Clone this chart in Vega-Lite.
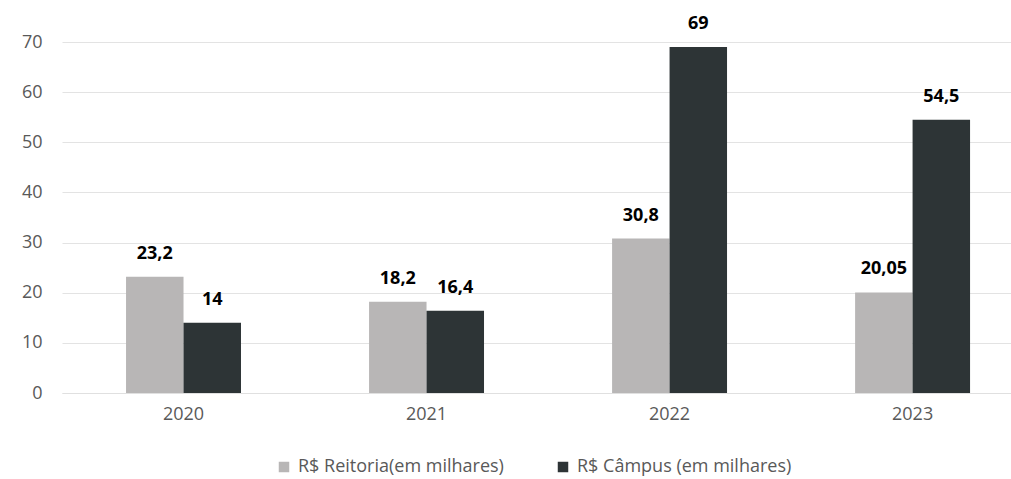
{
  "$schema": "https://vega.github.io/schema/vega-lite/v6.json",
  "width": 949,
  "height": 351,
  "autosize": "none",
  "padding": {"left": 62, "top": 42, "right": 0, "bottom": 86},
  "background": "white",
  "config": {
    "view": {"stroke": null},
    "font": "Open Sans",
    "locale": {"number": {"decimal": ",", "thousands": ".", "grouping": [3], "currency": ["R$", ""]}}
  },
  "data": {
    "values": [
      {"ano": "2020", "serie": "R$ Reitoria(em milhares)", "valor": 23.2},
      {"ano": "2020", "serie": "R$ Câmpus (em milhares)", "valor": 14},
      {"ano": "2021", "serie": "R$ Reitoria(em milhares)", "valor": 18.2},
      {"ano": "2021", "serie": "R$ Câmpus (em milhares)", "valor": 16.4},
      {"ano": "2022", "serie": "R$ Reitoria(em milhares)", "valor": 30.8},
      {"ano": "2022", "serie": "R$ Câmpus (em milhares)", "valor": 69},
      {"ano": "2023", "serie": "R$ Reitoria(em milhares)", "valor": 20.05},
      {"ano": "2023", "serie": "R$ Câmpus (em milhares)", "valor": 54.5}
    ]
  },
  "encoding": {
    "x": {
      "field": "ano", "type": "nominal",
      "scale": {"paddingInner": 0.527, "paddingOuter": 0.216, "align": 0.61},
      "axis": {"title": null, "labelAngle": 0, "domain": true, "domainColor": "#e0e0e0", "ticks": false, "labelFont": "Open Sans", "labelFontSize": 18, "labelColor": "#595959", "labelPadding": 12}
    },
    "xOffset": {"field": "serie", "type": "nominal", "sort": ["R$ Reitoria(em milhares)", "R$ Câmpus (em milhares)"], "scale": {"paddingInner": 0, "paddingOuter": 0}},
    "y": {
      "field": "valor", "type": "quantitative",
      "scale": {"domain": [0, 70]},
      "axis": {"title": null, "values": [0, 10, 20, 30, 40, 50, 60, 70], "labelOverlap": false, "domain": false, "ticks": false, "labelFont": "Open Sans", "labelFontSize": 18, "labelColor": "#595959", "labelPadding": 20, "gridColor": "#e3e3e3", "gridWidth": 1.2}
    }
  },
  "layer": [
    {
      "mark": {"type": "bar"},
      "encoding": {
        "color": {
          "field": "serie", "type": "nominal",
          "sort": ["R$ Reitoria(em milhares)", "R$ Câmpus (em milhares)"],
          "scale": {"domain": ["R$ Reitoria(em milhares)", "R$ Câmpus (em milhares)"], "range": ["#b8b6b6", "#2d3436"]},
          "legend": {
            "title": null, "orient": "none", "legendX": 213, "legendY": 416, "direction": "horizontal",
            "symbolType": "square", "symbolSize": 110, "symbolStrokeWidth": 0,
            "labelFont": "Open Sans", "labelFontSize": 18, "labelColor": "#595959", "labelLimit": 400,
            "columnPadding": 50, "labelOffset": 5
          }
        }
      }
    },
    {
      "mark": {"type": "text", "baseline": "bottom", "dy": -14, "fontWeight": "bold", "fontSize": 18, "font": "Open Sans", "color": "#000000"},
      "encoding": {
        "text": {"field": "valor", "type": "quantitative", "format": "~g"}
      }
    }
  ]
}
